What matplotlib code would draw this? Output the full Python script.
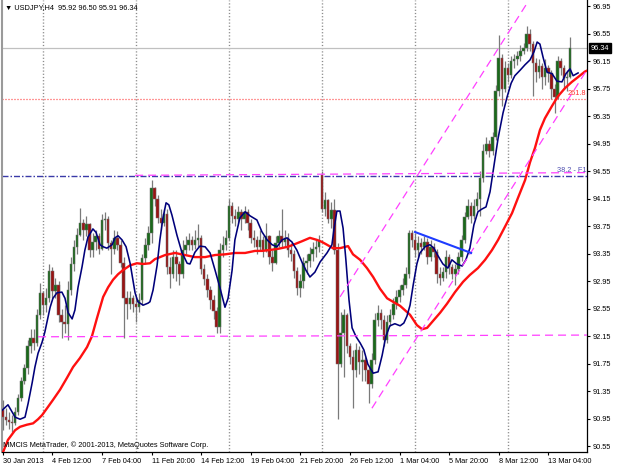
import matplotlib
matplotlib.use("Agg")
import matplotlib.pyplot as plt

plt.rcParams['font.family'] = ['Liberation Sans', 'DejaVu Sans']
plt.rcParams['lines.scale_dashes'] = False

# ---------------- data (USDJPY H4) ----------------
opens = [91.07, 90.97, 90.93, 90.90, 90.88, 91.05, 91.25, 91.50, 91.68, 92.00,
         92.12, 92.05, 92.45, 92.78, 92.60, 92.70, 93.10, 92.80, 92.90, 92.45,
         92.35, 92.33, 92.82, 93.20, 93.45, 93.62, 93.80, 93.70, 93.78, 93.40,
         93.52, 93.60, 93.42, 93.84, 93.86, 93.50, 93.42, 93.58, 93.48, 93.22,
         92.70, 92.62, 92.70, 92.62, 92.58, 92.68, 93.28, 93.48, 93.65, 94.30,
         94.15, 93.87, 93.80, 93.92, 93.15, 93.05, 93.30, 93.20, 93.05, 93.40,
         93.48, 93.55, 93.48, 93.55, 93.58, 93.12, 92.98, 92.82, 92.68, 92.52,
         92.28, 93.40, 93.48, 93.58, 94.05, 93.90, 93.85, 93.95, 93.85, 93.95,
         93.80, 93.58, 93.55, 93.45, 93.55, 93.40, 93.60, 93.30, 93.22, 93.50,
         93.60, 93.52, 93.58, 93.40, 93.35, 93.10, 92.85, 92.95, 93.22, 93.25,
         93.35, 93.42, 93.45, 94.50, 94.00, 94.13, 93.86, 93.98, 93.40, 91.75,
         92.20, 92.45, 92.00, 91.85, 91.66, 91.95, 91.78, 91.80, 91.65, 91.45,
         91.80, 92.38, 92.48, 92.38, 92.10, 92.35, 92.45, 92.62, 92.72, 92.82,
         92.90, 93.05, 93.65, 93.55, 93.40, 93.50, 93.45, 93.52, 93.30, 93.45,
         93.38, 93.05, 93.00, 93.08, 93.30, 93.15, 93.05, 93.12, 93.30, 93.55,
         93.88, 94.05, 93.90, 94.05, 94.15, 94.45, 94.85, 94.95, 94.85, 95.05,
         95.72, 96.20, 95.75, 96.05, 95.95, 96.15, 96.18, 96.22, 96.30, 96.35,
         96.55, 96.40, 96.12, 96.00, 96.08, 95.92, 96.05, 95.98, 95.75, 95.63,
         96.15, 96.05, 95.90, 95.92]
highs = [91.22, 91.10, 91.05, 91.00, 91.12, 91.30, 91.55, 91.75, 92.10, 92.25,
         92.25, 92.55, 92.92, 92.80, 92.85, 93.20, 93.15, 93.00, 92.95, 92.55,
         92.60, 92.95, 93.30, 93.55, 93.72, 94.02, 93.85, 93.90, 93.80, 93.65,
         93.70, 93.65, 93.92, 93.95, 93.90, 93.55, 93.70, 93.68, 93.55, 93.30,
         92.80, 92.80, 92.75, 92.72, 92.78, 93.35, 93.58, 93.75, 94.42, 94.32,
         94.20, 94.00, 94.00, 94.00, 93.30, 93.40, 93.40, 93.25, 93.55, 93.60,
         93.65, 93.60, 93.70, 93.78, 93.62, 93.20, 93.05, 92.88, 92.75, 92.58,
         93.50, 93.60, 93.70, 94.15, 94.10, 94.00, 94.05, 94.00, 94.05, 94.00,
         93.85, 93.70, 93.60, 93.70, 93.60, 93.80, 93.62, 93.40, 93.60, 93.70,
         94.00, 93.70, 93.65, 93.50, 93.40, 93.15, 93.05, 93.30, 93.35, 93.45,
         93.52, 93.55, 93.62, 94.56, 94.25, 94.15, 94.10, 94.15, 93.50, 92.50,
         92.55, 92.48, 92.05, 91.95, 92.05, 92.00, 91.95, 91.85, 91.70, 91.90,
         92.48, 92.60, 92.55, 92.45, 92.45, 92.55, 92.70, 92.82, 92.90, 93.00,
         93.15, 93.70, 93.70, 93.65, 93.60, 93.58, 93.60, 93.58, 93.55, 93.50,
         93.42, 93.15, 93.15, 93.40, 93.35, 93.20, 93.20, 93.38, 93.62, 93.95,
         94.15, 94.10, 94.15, 94.25, 94.55, 94.95, 95.05, 95.00, 95.12, 95.80,
         96.53, 96.25, 96.15, 96.12, 96.22, 96.25, 96.30, 96.38, 96.42, 96.67,
         96.62, 96.45, 96.20, 96.18, 96.12, 96.18, 96.10, 96.02, 95.82, 96.22,
         96.20, 96.10, 96.02, 96.50]
lows = [90.78, 90.85, 90.80, 90.75, 90.85, 91.00, 91.20, 91.45, 91.60, 91.90,
        91.95, 92.00, 92.40, 92.45, 92.50, 92.65, 92.70, 92.70, 92.35, 92.12,
        92.20, 92.10, 92.75, 93.10, 93.35, 93.60, 93.55, 93.60, 93.30, 93.30,
        93.40, 93.35, 93.40, 93.70, 93.40, 93.05, 93.35, 93.40, 93.15, 92.12,
        92.40, 92.55, 92.50, 92.35, 92.50, 92.60, 93.20, 93.40, 93.50, 94.05,
        93.80, 93.70, 93.75, 93.05, 92.85, 93.00, 92.95, 92.90, 93.00, 93.35,
        93.40, 93.40, 93.42, 93.45, 93.05, 92.90, 92.72, 92.55, 92.40, 92.20,
        92.20, 93.30, 93.40, 93.55, 93.80, 93.75, 93.80, 93.70, 93.80, 93.70,
        93.50, 93.45, 93.35, 93.40, 93.30, 93.38, 93.20, 93.10, 93.20, 93.45,
        93.45, 93.45, 93.30, 93.25, 93.00, 92.75, 92.72, 92.85, 93.05, 93.15,
        93.25, 93.30, 93.38, 93.95, 93.90, 93.80, 93.72, 93.35, 90.95, 91.70,
        91.55, 91.90, 91.75, 91.10, 91.55, 91.60, 91.50, 91.50, 91.17, 91.40,
        91.75, 92.30, 92.25, 92.00, 92.05, 92.30, 92.40, 92.55, 92.65, 92.75,
        92.85, 93.00, 93.45, 93.30, 93.30, 93.35, 93.40, 93.20, 93.25, 93.30,
        92.92, 92.90, 92.95, 93.00, 93.05, 92.98, 92.90, 93.05, 93.25, 93.50,
        93.85, 93.80, 93.85, 93.98, 93.90, 94.40, 94.80, 94.75, 94.78, 95.00,
        95.65, 95.50, 95.70, 95.85, 95.90, 96.05, 96.10, 96.15, 96.25, 96.30,
        96.30, 95.65, 95.85, 95.90, 95.75, 95.80, 95.85, 95.60, 95.40, 95.60,
        95.95, 95.75, 95.72, 95.91]
closes = [90.97, 90.93, 90.90, 90.88, 91.05, 91.25, 91.50, 91.68, 92.00, 92.12,
          92.05, 92.45, 92.78, 92.60, 92.70, 93.10, 92.80, 92.90, 92.45, 92.35,
          92.33, 92.82, 93.20, 93.45, 93.62, 93.80, 93.70, 93.78, 93.40, 93.52,
          93.60, 93.42, 93.84, 93.86, 93.50, 93.42, 93.58, 93.48, 93.22, 92.70,
          92.62, 92.70, 92.62, 92.58, 92.68, 93.28, 93.48, 93.65, 94.30, 94.15,
          93.87, 93.80, 93.92, 93.15, 93.05, 93.30, 93.20, 93.05, 93.40, 93.48,
          93.55, 93.48, 93.55, 93.58, 93.12, 92.98, 92.82, 92.68, 92.52, 92.28,
          93.40, 93.48, 93.58, 94.05, 93.90, 93.85, 93.95, 93.85, 93.95, 93.80,
          93.58, 93.55, 93.45, 93.55, 93.40, 93.60, 93.30, 93.22, 93.50, 93.60,
          93.52, 93.58, 93.40, 93.35, 93.10, 92.85, 92.95, 93.22, 93.25, 93.35,
          93.42, 93.45, 93.55, 94.00, 94.13, 93.86, 93.98, 93.40, 91.75, 92.20,
          92.45, 92.00, 91.85, 91.66, 91.95, 91.78, 91.80, 91.65, 91.45, 91.80,
          92.38, 92.48, 92.38, 92.10, 92.35, 92.45, 92.62, 92.72, 92.82, 92.90,
          93.05, 93.65, 93.55, 93.40, 93.50, 93.45, 93.52, 93.30, 93.45, 93.38,
          93.05, 93.00, 93.08, 93.30, 93.15, 93.05, 93.12, 93.30, 93.55, 93.88,
          94.05, 93.90, 94.05, 94.15, 94.45, 94.85, 94.95, 94.85, 95.05, 95.72,
          96.20, 95.75, 96.05, 95.95, 96.15, 96.18, 96.22, 96.30, 96.35, 96.55,
          96.40, 96.12, 96.00, 96.08, 95.92, 96.05, 95.98, 95.75, 95.63, 96.15,
          96.05, 95.90, 95.92, 96.34]

# fast moving average (navy) sampled along the chart: bar position, price
ma_fast_x = [-0.2, 1.7, 4.0, 5.6, 7.2, 8.2, 9.5, 10.4, 11.4, 12.7, 13.6, 15.3, 16.2,
             17.5, 19.1, 20.1, 21.1, 22.4, 23.3, 24.3, 25.6, 26.5, 27.5, 29.1, 30.1,
             31.4, 32.4, 33.6, 35.3, 36.2, 37.2, 38.5, 39.8, 41.1, 42.0, 42.7, 43.6,
             45.3, 46.9, 47.5, 48.5, 49.8, 50.7, 51.7, 52.7, 53.6, 54.6, 56.2, 57.8,
             59.5, 60.4, 62.0, 63.6, 65.3, 66.9, 68.5, 70.1, 71.7, 72.7, 74.0, 74.9,
             76.5, 78.2, 79.8, 82.0, 83.6, 85.3, 86.9, 88.5, 90.1, 91.7, 93.3, 94.9,
             96.5, 97.8, 99.1, 100.7, 102.4, 104.6, 106.2, 106.9, 107.8, 108.8, 109.8,
             110.7, 111.7, 112.7, 114.0, 115.3, 116.5, 117.8, 119.5, 121.1, 122.4,
             123.6, 124.9, 126.5, 128.2, 129.4, 130.4, 131.4, 132.4, 133.6, 134.6,
             136.2, 137.8, 139.1, 140.4, 142.0, 143.6, 144.9, 146.5, 148.2, 149.4,
             150.7, 152.0, 153.3, 154.6, 155.9, 157.2, 158.5, 159.8, 161.4, 162.7,
             164.0, 165.2, 166.9, 168.5, 170.1, 171.4, 172.4, 173.3, 174.3, 175.6,
             177.2, 178.8, 180.4, 181.7, 183.0, 184.0, 185.6]
ma_fast = [91.07, 91.15, 90.97, 90.94, 90.97, 91.17, 91.47, 91.70, 91.90, 92.06, 92.21,
           92.57, 92.70, 92.78, 92.79, 92.70, 92.49, 92.40, 92.53, 92.86, 93.16, 93.40,
           93.59, 93.71, 93.66, 93.48, 93.45, 93.43, 93.48, 93.58, 93.61, 93.55, 93.45,
           93.21, 92.97, 92.78, 92.65, 92.60, 92.63, 92.65, 92.82, 93.18, 93.55, 93.87,
           94.09, 94.06, 93.91, 93.62, 93.37, 93.21, 93.20, 93.37, 93.46, 93.45, 93.36,
           93.11, 92.85, 92.57, 92.70, 93.11, 93.55, 93.87, 93.96, 93.90, 93.84, 93.67,
           93.55, 93.48, 93.45, 93.55, 93.58, 93.52, 93.40, 93.23, 93.11, 93.01, 93.08,
           93.23, 93.36, 93.48, 93.72, 93.97, 93.97, 93.72, 93.26, 92.68, 92.27, 92.14,
           92.05, 91.95, 91.74, 91.61, 91.63, 91.87, 92.15, 92.30, 92.33, 92.30, 92.34,
           92.44, 92.60, 92.89, 93.20, 93.36, 93.45, 93.48, 93.43, 93.32, 93.20, 93.14,
           93.26, 93.20, 93.17, 93.26, 93.43, 93.77, 93.96, 94.00, 94.03, 94.25, 94.64,
           95.03, 95.40, 95.63, 95.83, 95.94, 96.02, 96.10, 96.17, 96.29, 96.43, 96.40,
           96.21, 95.99, 95.97, 95.86, 95.85, 95.97, 96.04, 95.94, 95.98]

# slow moving average (red)
ma_slow_x = [0.1, 1.7, 4.0, 5.6, 7.8, 9.8, 11.4, 12.7, 14.3, 16.2, 18.5, 20.7, 22.7,
             24.9, 27.2, 28.8, 30.4, 32.4, 34.0, 35.6, 37.2, 38.8, 41.1, 43.3, 45.3,
             47.5, 49.1, 52.4, 55.6, 58.8, 62.0, 65.3, 68.5, 71.7, 74.9, 78.2, 81.4,
             83.6, 85.6, 88.8, 92.0, 94.3, 96.5, 99.1, 101.4, 103.0, 104.6, 106.5,
             108.8, 111.4, 113.0, 115.3, 117.5, 119.5, 121.7, 124.0, 125.9, 128.2,
             131.4, 133.6, 135.3, 136.9, 138.8, 141.1, 143.3, 145.9, 148.5, 150.7,
             153.3, 155.6, 157.8, 159.8, 162.0, 164.3, 166.2, 168.5, 170.1, 171.7,
             173.3, 174.9, 177.2, 179.1, 181.4, 183.6, 185.6, 187.8, 188.8]
ma_slow = [90.46, 90.64, 90.78, 90.83, 90.86, 90.88, 90.94, 91.00, 91.10, 91.22, 91.37,
           91.54, 91.70, 91.83, 91.99, 92.15, 92.41, 92.72, 92.86, 92.97, 93.05, 93.11,
           93.18, 93.21, 93.20, 93.21, 93.27, 93.33, 93.36, 93.33, 93.30, 93.30, 93.33,
           93.34, 93.36, 93.36, 93.39, 93.39, 93.40, 93.42, 93.45, 93.49, 93.53, 93.58,
           93.55, 93.52, 93.48, 93.43, 93.43, 93.46, 93.34, 93.26, 93.14, 93.01, 92.84,
           92.70, 92.65, 92.59, 92.46, 92.31, 92.25, 92.27, 92.37, 92.49, 92.62, 92.79,
           92.94, 93.04, 93.14, 93.26, 93.40, 93.55, 93.74, 93.94, 94.16, 94.42, 94.68,
           94.89, 95.15, 95.32, 95.50, 95.64, 95.76, 95.85, 95.92, 96.00, 96.02]

# drawn objects: (bar, price) end points
channel_up_x, channel_up_y = [108.8, 168.8], [92.72, 96.97]
channel_lo_x, channel_lo_y = [119.1, 188.8], [91.10, 96.05]
trend_hi_x, trend_hi_y = [42.7, 188.8], [94.49, 94.53]
trend_lo_x, trend_lo_y = [11.4, 188.8], [92.14, 92.165]
blue_trend_x, blue_trend_y = [133.0, 151.1], [93.665, 93.36]
fibo_382 = 94.485
fibo_2618 = 95.60
bid_price = 96.34
week_starts = [13, 43, 73, 103, 133, 163]

x_tick_bars = [0, 16, 32, 48, 64, 80, 96, 112, 128, 144, 160, 176]
x_tick_labels = ["30 Jan 2013", "4 Feb 12:00", "7 Feb 04:00", "11 Feb 20:00",
                 "14 Feb 12:00", "19 Feb 04:00", "21 Feb 20:00", "26 Feb 12:00",
                 "1 Mar 04:00", "5 Mar 20:00", "8 Mar 12:00", "13 Mar 04:00"]
y_tick_values = [90.55, 90.95, 91.35, 91.75, 92.15, 92.55, 92.95, 93.35, 93.75,
                 94.15, 94.55, 94.95, 95.35, 95.75, 96.15, 96.55, 96.95]

# ---------------- figure ----------------
W, H = 620, 465
fig = plt.figure(figsize=(W / 100, H / 100), dpi=100)
fig.patch.set_facecolor('white')
ax = fig.add_axes([2 / W, 13 / H, 585 / W, 452 / H])
ax.set_facecolor('white')
ax.set_xlim(-0.226, 188.48)
ax.set_ylim(90.463, 97.042)

FS = 5.3
px = 0.72  # points per pixel

# weekly grid
for b in week_starts:
    ax.axvline(b, color='#8c8c8c', lw=1.0, linestyle=(0, (1.2 * px, 2.0 * px)), zorder=0)

# horizontal objects
ax.axhline(bid_price, color='#c0c0c0', lw=0.9, zorder=1)
ax.axhline(fibo_2618, color='#ff3030', lw=0.9, linestyle=(0, (1 * px, 2 * px)), zorder=1)
ax.axhline(fibo_382, color='#3a3aa8', lw=1.0,
           linestyle=(0, (6 * px, 2 * px, 1.5 * px, 2 * px)), zorder=1)

# candles
wick_c = '#7a7a7a'
for i, (o, h, l, c) in enumerate(zip(opens, highs, lows, closes)):
    ax.plot([i, i], [l, h], color=wick_c, lw=0.9, zorder=2, solid_capstyle='butt')
    bull = c >= o
    lo_b, hi_b = (o, c) if bull else (c, o)
    ht = max(hi_b - lo_b, 0.012)
    ax.bar(i, ht, bottom=lo_b, width=0.8,
           color='#1a6a1a' if bull else '#9a1414',
           edgecolor='#6e6e6e', linewidth=0.35, zorder=3)

# moving averages
ax.plot(ma_slow_x, ma_slow, color='#ff1010', lw=1.7, zorder=4, solid_joinstyle='round')
ax.plot(ma_fast_x, ma_fast, color='#00007a', lw=1.15, zorder=5, solid_joinstyle='round')

# trendlines / channel
mag = '#ff40ff'
dash = (0, (8 * px, 5 * px))
ax.plot(channel_up_x, channel_up_y, color=mag, lw=0.9, linestyle=dash, zorder=6)
ax.plot(channel_lo_x, channel_lo_y, color=mag, lw=0.9, linestyle=dash, zorder=6)
ax.plot(trend_hi_x, trend_hi_y, color=mag, lw=0.9, linestyle=dash, zorder=6)
ax.plot(trend_lo_x, trend_lo_y, color=mag, lw=0.9, linestyle=dash, zorder=6)
ax.plot(blue_trend_x, blue_trend_y, color='#1e3cff', lw=1.5, zorder=6)

# level labels
ax.text(188.3, fibo_382 + 0.03, "38.2 - F1", color='#5050b0', fontsize=FS,
        ha='right', va='bottom', zorder=7)
ax.text(188.3, fibo_2618 + 0.03, "261.8", color='#ff3030', fontsize=FS,
        ha='right', va='bottom', zorder=7)

# axes styling
ax.spines['top'].set_visible(False)
ax.spines['left'].set_color('#9a9a9a')
ax.spines['left'].set_linewidth(1.5)
ax.spines['right'].set_color('black')
ax.spines['bottom'].set_color('black')
ax.spines['right'].set_linewidth(0.9)
ax.spines['bottom'].set_linewidth(0.9)

ax.yaxis.tick_right()
ax.set_yticks(y_tick_values)
ax.set_yticklabels([f"{v:.2f}" for v in y_tick_values])
ax.tick_params(axis='y', direction='out', length=2.5, width=0.8, pad=1.5,
               labelsize=FS, colors='black', left=False)
ax.set_xticks(x_tick_bars)
ax.set_xticklabels(x_tick_labels)
for t in ax.get_xticklabels():
    t.set_horizontalalignment('left')
ax.tick_params(axis='x', direction='out', length=2.5, width=0.8, pad=1.5,
               labelsize=FS, colors='black')

# header and footer text
fig.text(5 / W, 1 - 8 / H, "\u25bc USDJPY,H4  95.92 96.50 95.91 96.34", fontsize=FS,
         ha='left', va='center', color='black')
fig.text(3 / W, 1 - 445 / H, "MMCIS MetaTrader, \u00a9 2001-2013, MetaQuotes Software Corp.",
         fontsize=FS, ha='left', va='center', color='black')

# current price box
fig.text(591 / W, 1 - 48 / H, "96.34", fontsize=FS, ha='left', va='center', color='white',
         bbox=dict(boxstyle='square,pad=0.25', facecolor='black', edgecolor='black'))

fig.savefig("out.png", dpi=100)
